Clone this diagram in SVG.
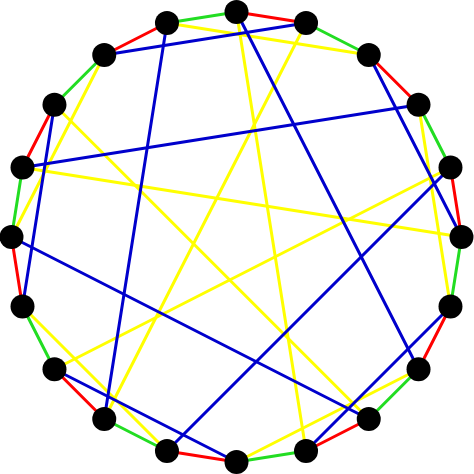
<svg xmlns="http://www.w3.org/2000/svg" width="474" height="474" viewBox="0 0 474 474">
<style>
line{stroke-width:3;stroke-linecap:round}
.r{stroke:#ff0000}.g{stroke:#22dd22}.b{stroke:#0000cc}.y{stroke:#ffff00}
circle{fill:#000}
</style>
<rect width="474" height="474" fill="#fff"/>
<g id="connectors">
<line class="y" x1="236.5" y1="12" x2="306.03" y2="450.99"/>
<line class="y" x1="166.97" y1="23.01" x2="368.75" y2="54.97"/>
<line class="y" x1="306.03" y1="23.01" x2="104.25" y2="419.03"/>
<line class="y" x1="418.53" y1="104.75" x2="450.49" y2="306.53"/>
<line class="y" x1="450.49" y1="167.47" x2="54.47" y2="369.25"/>
<line class="y" x1="22.51" y1="167.47" x2="461.5" y2="237"/>
<line class="y" x1="418.53" y1="369.25" x2="236.5" y2="462"/>
<line class="y" x1="54.47" y1="104.75" x2="368.75" y2="419.03"/>
<line class="y" x1="22.51" y1="306.53" x2="166.97" y2="450.99"/>
<line class="y" x1="104.25" y1="54.97" x2="11.5" y2="237"/>
<line class="b" x1="236.5" y1="12" x2="418.53" y2="369.25"/>
<line class="b" x1="306.03" y1="23.01" x2="104.25" y2="54.97"/>
<line class="b" x1="368.75" y1="54.97" x2="461.5" y2="237"/>
<line class="b" x1="418.53" y1="104.75" x2="22.51" y2="167.47"/>
<line class="b" x1="450.49" y1="167.47" x2="166.97" y2="450.99"/>
<line class="b" x1="450.49" y1="306.53" x2="306.03" y2="450.99"/>
<line class="b" x1="11.5" y1="237" x2="368.75" y2="419.03"/>
<line class="b" x1="166.97" y1="23.01" x2="104.25" y2="419.03"/>
<line class="b" x1="54.47" y1="104.75" x2="22.51" y2="306.53"/>
<line class="b" x1="54.47" y1="369.25" x2="236.5" y2="462"/>
<line class="r" x1="236.5" y1="12" x2="306.03" y2="23.01"/>
<line class="g" x1="306.03" y1="23.01" x2="368.75" y2="54.97"/>
<line class="r" x1="368.75" y1="54.97" x2="418.53" y2="104.75"/>
<line class="g" x1="418.53" y1="104.75" x2="450.49" y2="167.47"/>
<line class="r" x1="450.49" y1="167.47" x2="461.5" y2="237"/>
<line class="g" x1="461.5" y1="237" x2="450.49" y2="306.53"/>
<line class="r" x1="450.49" y1="306.53" x2="418.53" y2="369.25"/>
<line class="g" x1="418.53" y1="369.25" x2="368.75" y2="419.03"/>
<line class="r" x1="368.75" y1="419.03" x2="306.03" y2="450.99"/>
<line class="g" x1="306.03" y1="450.99" x2="236.5" y2="462"/>
<line class="r" x1="236.5" y1="462" x2="166.97" y2="450.99"/>
<line class="g" x1="166.97" y1="450.99" x2="104.25" y2="419.03"/>
<line class="r" x1="104.25" y1="419.03" x2="54.47" y2="369.25"/>
<line class="g" x1="54.47" y1="369.25" x2="22.51" y2="306.53"/>
<line class="r" x1="22.51" y1="306.53" x2="11.5" y2="237"/>
<line class="g" x1="11.5" y1="237" x2="22.51" y2="167.47"/>
<line class="r" x1="22.51" y1="167.47" x2="54.47" y2="104.75"/>
<line class="g" x1="54.47" y1="104.75" x2="104.25" y2="54.97"/>
<line class="r" x1="104.25" y1="54.97" x2="166.97" y2="23.01"/>
<line class="g" x1="166.97" y1="23.01" x2="236.5" y2="12"/>
</g>
<g id="n0"><circle cx="236.5" cy="12" r="12"/></g>
<g id="n1"><circle cx="306.03" cy="23.01" r="12"/></g>
<g id="n2"><circle cx="368.75" cy="54.97" r="12"/></g>
<g id="n3"><circle cx="418.53" cy="104.75" r="12"/></g>
<g id="n4"><circle cx="450.49" cy="167.47" r="12"/></g>
<g id="n5"><circle cx="461.5" cy="237" r="12"/></g>
<g id="n6"><circle cx="450.49" cy="306.53" r="12"/></g>
<g id="n7"><circle cx="418.53" cy="369.25" r="12"/></g>
<g id="n8"><circle cx="368.75" cy="419.03" r="12"/></g>
<g id="n9"><circle cx="306.03" cy="450.99" r="12"/></g>
<g id="n10"><circle cx="236.5" cy="462" r="12"/></g>
<g id="n11"><circle cx="166.97" cy="450.99" r="12"/></g>
<g id="n12"><circle cx="104.25" cy="419.03" r="12"/></g>
<g id="n13"><circle cx="54.47" cy="369.25" r="12"/></g>
<g id="n14"><circle cx="22.51" cy="306.53" r="12"/></g>
<g id="n15"><circle cx="11.5" cy="237" r="12"/></g>
<g id="n16"><circle cx="22.51" cy="167.47" r="12"/></g>
<g id="n17"><circle cx="54.47" cy="104.75" r="12"/></g>
<g id="n18"><circle cx="104.25" cy="54.97" r="12"/></g>
<g id="n19"><circle cx="166.97" cy="23.01" r="12"/></g>
</svg>
